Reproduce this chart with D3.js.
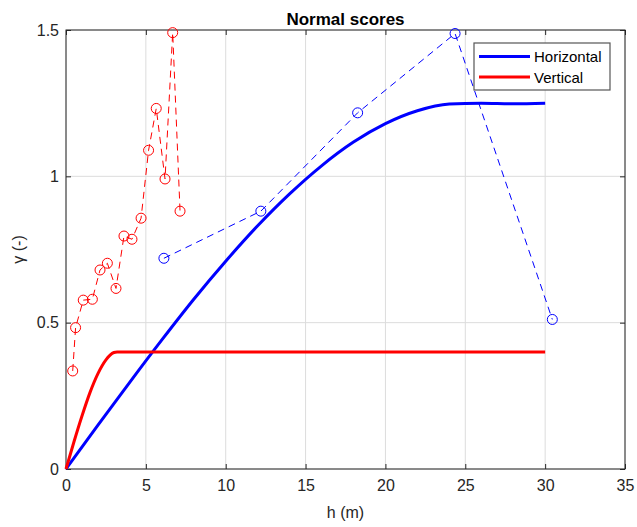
<!DOCTYPE html>
<html>
<head>
<meta charset="utf-8">
<script src="https://cdn.jsdelivr.net/npm/d3@7"></script>
<style>
  body { margin: 0; background: #fff; }
  text { font-family: "Liberation Sans", Arial, sans-serif; }
</style>
</head>
<body>
<script>
// model curves
var horizH = [0, 2, 4, 6, 8, 10, 12, 14, 16, 18, 20, 22, 24, 26, 28, 30]
var horizG = [0, 0.15, 0.297, 0.441, 0.58, 0.71, 0.831, 0.94, 1.036, 1.117, 1.18, 1.224, 1.247, 1.25, 1.248, 1.25]
var vertH = [0, 0.5, 1, 1.5, 2, 2.5, 3, 3.2, 30]
var vertG = [0, 0.093, 0.181, 0.261, 0.326, 0.373, 0.398, 0.4, 0.4]

// experimental points
var expVertH = [0.42, 0.6, 1.08, 1.65, 2.13, 2.59, 3.13, 3.63, 4.13, 4.7, 5.17, 5.65, 6.2, 6.68, 7.14]
var expVertG = [0.335, 0.483, 0.577, 0.58, 0.68, 0.703, 0.617, 0.796, 0.785, 0.857, 1.089, 1.232, 0.991, 1.491, 0.881]
var expHorizH = [6.13, 12.2, 18.26, 24.36, 30.45]
var expHorizG = [0.72, 0.881, 1.217, 1.488, 0.511]

var xTicks = [0, 5, 10, 15, 20, 25, 30, 35]
var yTicks = [0, 0.5, 1, 1.5]
var series = ["Horizontal", "Vertical"]

var width = 637
var height = 527
var margin = {top: 30, right: 12, bottom: 58, left: 66}
var ink = "#262626"

var svg = d3.select("body").append("svg")
  .attr("width", width)
  .attr("height", height)

var x = d3.scaleLinear().domain([0, 35]).range([margin.left, width - margin.right])
var y = d3.scaleLinear().domain([0, 1.5]).range([height - margin.bottom, margin.top])

// grid
svg.append("g")
  .selectAll("line.gx")
  .data(xTicks)
  .enter().append("line")
  .attr("x1", d => x(d)).attr("x2", d => x(d))
  .attr("y1", y(0)).attr("y2", y(1.5))
  .attr("stroke", "#dcdcdc").attr("stroke-width", 1)
svg.append("g")
  .selectAll("line.gy")
  .data(yTicks)
  .enter().append("line")
  .attr("x1", x(0)).attr("x2", x(35))
  .attr("y1", d => y(d)).attr("y2", d => y(d))
  .attr("stroke", "#dcdcdc").attr("stroke-width", 1)

// axes (ticks inside, MATLAB style)
function styleAxis(g) {
  g.select(".domain").remove()
  g.selectAll("line").attr("stroke", ink)
  g.selectAll("text").attr("fill", ink).style("font-size", "16px")
    .style("font-family", "'Liberation Sans', Arial, sans-serif")
}
svg.append("g")
  .attr("transform", "translate(0," + y(0) + ")")
  .call(d3.axisBottom(x).tickValues(xTicks).tickSizeInner(-5).tickSizeOuter(0).tickPadding(11).tickFormat(d3.format("d")))
  .call(styleAxis)
svg.append("g")
  .attr("transform", "translate(0," + y(1.5) + ")")
  .call(d3.axisTop(x).tickValues(xTicks).tickSizeInner(-5).tickSizeOuter(0).tickFormat(""))
  .call(styleAxis)
svg.append("g")
  .attr("transform", "translate(" + x(0) + ",0)")
  .call(d3.axisLeft(y).tickValues(yTicks).tickSizeInner(-5).tickSizeOuter(0).tickPadding(7).tickFormat(d => d3.format("")(d)))
  .call(styleAxis)
svg.append("g")
  .attr("transform", "translate(" + x(35) + ",0)")
  .call(d3.axisRight(y).tickValues(yTicks).tickSizeInner(-5).tickSizeOuter(0).tickFormat(""))
  .call(styleAxis)

// box
svg.append("rect")
  .attr("x", x(0)).attr("y", y(1.5))
  .attr("width", x(35) - x(0)).attr("height", y(0) - y(1.5))
  .attr("fill", "none").attr("stroke", ink).attr("stroke-width", 1)

var line = d3.line().x(d => x(d[0])).y(d => y(d[1]))
var smooth = d3.line().x(d => x(d[0])).y(d => y(d[1])).curve(d3.curveMonotoneX)

// model curves
svg.append("path")
  .datum(d3.zip(horizH, horizG))
  .attr("d", smooth)
  .attr("fill", "none").attr("stroke", "#0000ff").attr("stroke-width", 3)
svg.append("path")
  .datum(d3.zip(vertH, vertG))
  .attr("d", smooth)
  .attr("fill", "none").attr("stroke", "#ff0000").attr("stroke-width", 3)

// experimental, dashed with circles
function pintarExp(hs, gs, color) {
  var pts = d3.zip(hs, gs)
  svg.append("path")
    .datum(pts)
    .attr("d", line)
    .attr("fill", "none").attr("stroke", color).attr("stroke-width", 1)
    .attr("stroke-dasharray", "7,5")
  svg.append("g")
    .selectAll("circle")
    .data(pts)
    .enter().append("circle")
    .attr("cx", d => x(d[0]))
    .attr("cy", d => y(d[1]))
    .attr("r", 5)
    .attr("fill", "none").attr("stroke", color).attr("stroke-width", 1)
}
pintarExp(expVertH, expVertG, "#ff0000")
pintarExp(expHorizH, expHorizG, "#0000ff")

// title and labels
svg.append("text")
  .attr("x", (x(0) + x(35)) / 2).attr("y", 25)
  .attr("text-anchor", "middle")
  .style("font-size", "17px").style("font-weight", "bold")
  .text("Normal scores")
svg.append("text")
  .attr("x", (x(0) + x(35)) / 2).attr("y", 518)
  .attr("text-anchor", "middle")
  .attr("fill", ink)
  .style("font-size", "16px")
  .text("h (m)")
svg.append("text")
  .attr("transform", "translate(24," + (y(0) + y(1.5)) / 2 + ") rotate(-90)")
  .attr("text-anchor", "middle")
  .attr("fill", ink)
  .style("font-size", "16px")
  .text("γ (-)")

// legend
var leg = svg.append("g").attr("transform", "translate(474,43)")
leg.append("rect")
  .attr("width", 136).attr("height", 47)
  .attr("fill", "#fff").attr("stroke", "#555").attr("stroke-width", 1.2)
var legColors = ["#0000ff", "#ff0000"]
series.forEach(function (s, i) {
  var yy = 13.5 + i * 20.5
  leg.append("line")
    .attr("x1", 5).attr("x2", 56).attr("y1", yy).attr("y2", yy)
    .attr("stroke", legColors[i]).attr("stroke-width", 3)
  leg.append("text")
    .attr("x", 60).attr("y", yy + 5.5)
    .attr("fill", "#000")
    .style("font-size", "15px")
    .text(s)
})
</script>
</body>
</html>
